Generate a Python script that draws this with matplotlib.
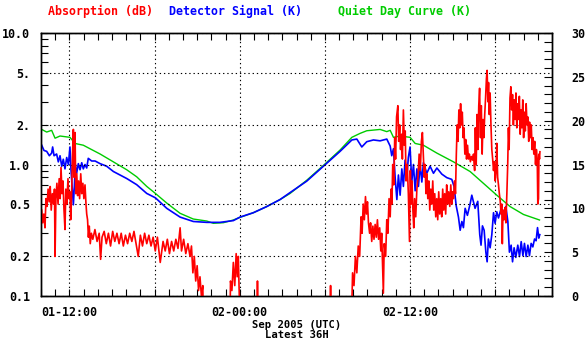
import numpy as np
import matplotlib
matplotlib.use("Agg")
import matplotlib.pyplot as plt
from matplotlib.ticker import FixedLocator, NullFormatter

# ---------------- data (hours since 01-10:00 UTC) ----------------
green_h = [0.05, 0.4, 0.75, 0.99, 1.34, 2.04, 2.4, 2.98, 3.45, 4.16, 5.1, 6.04, 6.74,
           7.45, 8.06, 8.86, 9.8, 10.73, 11.68, 12.14, 12.85, 13.55, 14.02, 14.96,
           15.9, 16.84, 17.55, 18.72, 19.9, 21.07, 21.9, 22.48, 22.95, 23.89, 24.36,
           24.6, 24.83, 25.3, 26.0, 26.36, 26.94, 27.89, 29.06, 30.23, 31.17, 32.11,
           33.05, 33.99, 35.12]
green_k = [19.0, 18.7, 18.9, 18.0, 18.25, 18.1, 17.4, 17.2, 16.8, 16.2, 15.3, 14.4, 13.6,
           12.5, 11.7, 10.6, 9.43, 8.78, 8.55, 8.29, 8.36, 8.67, 8.97, 9.5,
           10.2, 11.0, 11.7, 13.2, 14.9, 16.65, 18.1, 18.55, 18.85, 19.0, 18.75,
           18.9, 18.1, 18.25, 18.1, 17.4, 17.2, 16.3, 15.3, 14.2, 12.85, 11.5,
           10.2, 9.3, 8.67]

blue_h = [0.05, 0.21, 0.4, 0.59, 0.75, 0.82, 0.92, 1.1, 1.22, 1.34, 1.46, 1.57, 1.69,
          1.81, 1.93, 2.04, 2.11, 2.21, 2.28, 2.35, 2.42, 2.51, 2.63, 2.75, 2.87,
          2.98, 3.1, 3.22, 3.33, 3.57, 3.81, 4.16, 4.63, 5.1, 5.57, 6.04, 6.74,
          7.45, 8.06, 8.86, 9.8, 10.73, 11.68, 12.61, 13.55, 14.02, 14.96, 15.9,
          16.84, 17.55, 18.72, 19.9, 21.07, 21.9, 22.25, 22.6, 22.95, 23.42, 23.89,
          24.36, 24.6, 24.71, 24.83, 24.95, 25.07, 25.18, 25.3, 25.42, 25.53, 25.65,
          25.77, 25.88, 26.0, 26.12, 26.24, 26.36, 26.48, 26.59, 26.71, 26.83,
          26.94, 27.18, 27.41, 27.65, 27.89, 28.24, 28.59, 28.94, 29.1, 29.25,
          29.41, 29.53, 29.65, 29.76, 29.88, 30.04, 30.23, 30.35, 30.58, 30.77,
          30.91, 31.0, 31.1, 31.22, 31.34, 31.43, 31.52, 31.64, 31.76, 31.88,
          31.99, 32.11, 32.23, 32.42, 32.58, 32.75, 32.89, 33.0, 33.12, 33.22,
          33.33, 33.45, 33.59, 33.71, 33.83, 33.95, 34.06, 34.18, 34.3, 34.41,
          34.53, 34.65, 34.77, 34.88, 34.98, 35.07, 35.14]
blue_k = [17.2, 16.6, 16.5, 16.0, 16.3, 17.0, 16.0, 16.2, 15.3, 16.0, 14.8, 15.6, 14.5,
          15.8, 15.0, 17.0, 14.5, 12.0, 10.4, 12.5, 15.0, 14.0, 15.1, 14.4, 15.2,
          14.5, 15.0, 14.6, 15.7, 15.4, 15.4, 15.1, 14.8, 14.2, 13.8, 13.4, 12.7,
          11.7, 11.2, 10.0, 9.0, 8.5, 8.4, 8.4, 8.6, 9.0, 9.5, 10.2,
          11.0, 11.8, 13.1, 14.8, 16.5, 17.8, 17.9, 17.0, 17.6, 17.8, 17.7,
          17.9, 17.1, 16.0, 16.8, 13.5, 11.0, 13.8, 11.5, 14.5, 12.5, 15.5,
          13.5, 15.8, 17.0, 13.0, 15.0, 12.0, 14.5, 12.5, 15.0, 13.0,
          15.2, 14.0, 14.8, 14.0, 14.6, 13.9, 13.5, 13.3, 12.5, 10.3,
          9.0, 7.5, 8.5, 7.8, 10.0, 9.2, 10.5, 11.5, 10.0, 10.8,
          7.0, 5.8, 8.0, 7.5, 5.0, 3.9, 6.5, 5.5, 7.0, 9.5,
          8.3, 9.6, 8.9, 10.0, 9.5, 10.2, 8.5, 5.0, 5.8, 3.9,
          5.5, 4.4, 5.8, 4.5, 6.2, 4.6, 6.0, 4.5, 5.8, 4.6,
          6.0, 5.6, 6.5, 6.3, 7.8, 6.6, 7.0]

red_h = [0.05, 0.12, 0.2, 0.28, 0.35, 0.42, 0.5, 0.58, 0.65, 0.72, 0.8, 0.88, 0.95, 0.99,
         1.05, 1.12, 1.2, 1.28, 1.35, 1.41, 1.48, 1.55, 1.62, 1.69, 1.75, 1.82, 1.9,
         1.97, 2.04, 2.09, 2.15, 2.22, 2.28, 2.33, 2.4, 2.45, 2.52, 2.58, 2.65, 2.72,
         2.8, 2.87, 2.95, 3.02, 3.1, 3.17, 3.22, 3.28, 3.34, 3.4, 3.47, 3.55,
         3.65, 3.8, 3.95, 4.1, 4.2, 4.3, 4.45, 4.6, 4.75, 4.9, 5.05, 5.2, 5.35, 5.5,
         5.65, 5.8, 5.95, 6.1, 6.25, 6.4, 6.55, 6.7, 6.85, 7.0, 7.15, 7.3, 7.45, 7.6,
         7.75, 7.9, 8.05, 8.2, 8.4, 8.6, 8.75, 8.9, 9.05, 9.2, 9.35, 9.5, 9.65, 9.8,
         9.9, 10.05, 10.2, 10.35, 10.5, 10.6, 10.7, 10.8, 10.9, 11.0, 11.1, 11.2,
         11.3, 11.4, 11.45, 13.3, 13.35, 13.45, 13.55, 13.65, 13.75, 13.82, 13.9,
         13.97, 14.0, 15.24, 15.25, 15.27, 20.35, 20.4, 20.45,
         21.85, 21.95, 22.05, 22.15, 22.25, 22.35, 22.45, 22.55, 22.62, 22.7, 22.78,
         22.86, 22.93, 23.0, 23.07, 23.15, 23.22, 23.3, 23.38, 23.46, 23.54, 23.62,
         23.7, 23.78, 23.86, 23.94, 24.0, 24.08, 24.12, 24.18, 24.28, 24.36, 24.44,
         24.52, 24.6, 24.66, 24.72, 24.78, 24.85, 24.92, 24.98, 25.05, 25.14, 25.2,
         25.27, 25.33, 25.4, 25.46, 25.53, 25.6, 25.66, 25.72, 25.8, 25.88, 25.96,
         26.02, 26.08, 26.14, 26.2, 26.26, 26.32, 26.4, 26.48, 26.56, 26.64, 26.72,
         26.8, 26.87, 26.93, 27.0, 27.06, 27.12, 27.18, 27.25, 27.32, 27.39, 27.46,
         27.53, 27.6, 27.67, 27.74, 27.81, 27.88, 27.95, 28.02, 28.09, 28.16, 28.23,
         28.3, 28.37, 28.44, 28.51, 28.58, 28.65, 28.72, 28.8, 28.87, 28.94, 29.0,
         29.06, 29.13, 29.2, 29.26, 29.32, 29.38, 29.44, 29.5, 29.56, 29.62, 29.68,
         29.74, 29.8, 29.86, 29.92, 29.98, 30.05, 30.11, 30.18, 30.25, 30.32, 30.4,
         30.47, 30.55, 30.6, 30.66, 30.72, 30.78, 30.84, 30.9, 30.96, 31.02, 31.08,
         31.14, 31.2, 31.26, 31.32, 31.38, 31.43, 31.48, 31.53, 31.58, 31.64, 31.7,
         31.76, 31.82, 31.88, 31.94, 32.0, 32.06, 32.11, 32.17, 32.23, 32.29, 32.35,
         32.41, 32.46, 32.5, 32.55, 32.62, 32.68, 32.75, 32.82, 32.88, 32.93, 32.98,
         33.04, 33.1, 33.16, 33.22, 33.28, 33.34, 33.4, 33.46, 33.52, 33.58, 33.64,
         33.7, 33.76, 33.82, 33.88, 33.94, 34.0, 34.06, 34.12, 34.18, 34.24, 34.3,
         34.36, 34.42, 34.48, 34.54, 34.6, 34.66, 34.72, 34.78, 34.84, 34.9, 34.96,
         35.0, 35.05, 35.08, 35.12, 35.15]
red_db = [0.45, 0.36, 0.42, 0.33, 0.55, 0.48, 0.65, 0.52, 0.68, 0.45, 0.6, 0.5, 0.65, 0.2,
          0.55, 0.72, 0.5, 0.78, 0.55, 0.95, 0.6, 0.75, 0.45, 0.32, 0.65, 0.5, 0.78,
          0.55, 0.62, 0.38, 0.55, 1.2, 1.85, 0.8, 1.75, 0.6, 0.85, 0.58, 0.75, 0.55,
          0.85, 0.6, 0.72, 0.55, 0.7, 0.5, 0.42, 0.38, 0.28, 0.34, 0.25, 0.3,
          0.27, 0.32, 0.26, 0.3, 0.19, 0.28, 0.31, 0.25, 0.3, 0.24, 0.31, 0.26, 0.3, 0.25,
          0.3, 0.24, 0.29, 0.25, 0.3, 0.26, 0.31, 0.25, 0.2, 0.29, 0.24, 0.3, 0.25, 0.29,
          0.24, 0.28, 0.22, 0.28, 0.18, 0.26, 0.22, 0.27, 0.21, 0.26, 0.22, 0.27, 0.23, 0.33,
          0.22, 0.27, 0.21, 0.25, 0.2, 0.24, 0.15, 0.2, 0.13, 0.17, 0.11, 0.14,
          0.1, 0.12, 0.05, 0.05, 0.13, 0.11, 0.18, 0.12, 0.21, 0.14, 0.2,
          0.1, 0.05, 0.05, 0.13, 0.05, 0.05, 0.12, 0.05,
          0.05, 0.15, 0.12, 0.2, 0.15, 0.24, 0.2, 0.4, 0.3, 0.5, 0.38,
          0.57, 0.42, 0.52, 0.36, 0.3, 0.36, 0.26, 0.34, 0.27, 0.35, 0.28,
          0.38, 0.27, 0.33, 0.22, 0.3, 0.15, 0.105, 0.25, 0.2, 0.38, 0.3,
          0.55, 0.4, 0.65, 0.5, 1.0, 0.7, 1.6, 1.1, 2.3, 2.8, 1.5,
          2.0, 1.3, 1.7, 1.1, 2.6, 1.4, 1.8, 0.75, 1.0, 0.6, 0.26,
          0.9, 0.5, 0.75, 0.45, 0.33, 0.55, 0.4, 0.65, 0.8, 1.2, 0.9,
          1.5, 1.75, 1.2, 0.8, 1.0, 0.6, 0.85, 0.55, 0.75, 0.45, 0.65,
          0.5, 0.75, 0.45, 0.6, 0.4, 0.55, 0.38, 0.62, 0.42, 0.55, 0.4,
          0.65, 0.45, 0.6, 0.42, 0.7, 0.5, 0.62, 0.48, 0.7, 0.5, 0.62,
          0.55, 0.75, 0.6, 1.2, 2.0, 1.5, 2.6, 1.9, 2.9, 2.0, 2.5,
          1.6, 1.9, 1.2, 1.55, 1.1, 1.4, 1.1, 1.2, 1.05, 1.15, 1.08,
          1.2, 0.9, 1.9, 1.0, 2.4, 1.3, 2.8, 3.8, 1.6, 2.8, 1.2,
          2.2, 1.6, 2.4, 3.2, 4.5, 5.2, 3.0, 4.2, 2.4, 3.5, 2.0,
          1.3, 1.1, 0.9, 1.05, 0.75, 0.9, 1.45, 0.8, 0.7, 0.6, 0.53,
          0.42, 0.5, 0.25, 0.45, 0.38, 0.47, 0.36, 0.6, 1.0, 1.9, 1.3,
          3.2, 3.9, 2.6, 3.4, 2.0, 3.1, 2.2, 3.5, 1.9, 2.9, 2.2,
          3.3, 1.7, 2.6, 1.9, 3.1, 1.6, 2.5, 1.8, 2.9, 2.0, 2.3,
          1.5, 2.1, 1.6, 2.0, 1.3, 1.6, 1.2, 1.5, 1.0, 1.3, 1.1,
          0.5, 0.55, 1.2, 1.1, 1.25]

x_label_hours = [2, 14, 26]
x_tick_labels = ["01-12:00", "02-00:00", "02-12:00"]
left_ticks = [0.1, 0.2, 0.5, 1.0, 2.0, 5.0, 10.0]
left_labels = ["0.1", "0.2", "0.5", "1.0", "2.", "5.", "10.0"]
right_ticks = [0, 5, 10, 15, 20, 25, 30]

# ---------------- figure ----------------
FONT = dict(family="DejaVu Sans Mono", weight="bold", size=8.4)
SMALL = dict(family="DejaVu Sans Mono", weight="bold", size=7.6)
RED, BLUE, GREEN = "#ff0000", "#0000ff", "#00cc00"

fig = plt.figure(figsize=(5.85, 3.41), dpi=100)
fig.patch.set_facecolor("white")
ax = fig.add_axes([41 / 585, 45 / 341, 511 / 585, 263 / 341])   # K (right scale)
ax2 = ax.twinx()                                                  # dB (left scale, log)

ax.plot(green_h, green_k, color=GREEN, lw=1.0)
ax.plot(blue_h, blue_k, color=BLUE, lw=1.2)
ax2.plot(red_h, red_db, color=RED, lw=1.2)

ax.set_xlim(0, 36)
ax.set_ylim(0, 30)
ax2.set_yscale("log")
ax2.set_ylim(0.1, 10)

# K axis on the right
ax.yaxis.tick_right()
ax.yaxis.set_label_position("right")
ax.set_yticks(right_ticks)
ax.set_yticklabels([str(t) for t in right_ticks], fontdict=FONT)
ax.yaxis.set_minor_locator(FixedLocator(np.arange(0, 31, 1)))
for lab in ax.get_yticklabels():
    lab.set_horizontalalignment("left")

# dB axis on the left
ax2.yaxis.tick_left()
ax2.yaxis.set_major_locator(FixedLocator(left_ticks))
ax2.set_yticklabels(left_labels, fontdict=FONT)
minor_db = [m * d for d in (0.1, 1.0) for m in range(2, 10) if m not in (2, 5)]
ax2.yaxis.set_minor_locator(FixedLocator(minor_db))
ax2.yaxis.set_minor_formatter(NullFormatter())

# x axis
ax.xaxis.set_major_locator(FixedLocator([2, 8, 14, 20, 26, 32]))
ax.xaxis.set_minor_locator(FixedLocator(np.arange(0, 37, 1)))
ax.set_xticklabels(["" for _ in range(6)])
for h, lab in zip(x_label_hours, x_tick_labels):
    ax.text(h, -0.063, lab, transform=ax.get_xaxis_transform(), ha="center", va="center",
            fontdict=FONT)

ax.tick_params(axis="x", which="both", direction="in", length=5, width=0.8,
               top=True, bottom=True)
ax.tick_params(axis="y", which="both", direction="in", length=6, width=0.8, pad=14)
ax2.tick_params(axis="y", which="both", direction="in", length=5, width=0.8, pad=8)

# grid
grid_style = dict(color="black", linewidth=0.8, linestyle=(0, (1.2, 2.6)))
ax.xaxis.grid(True, which="major", **grid_style)
ax2.yaxis.grid(True, which="major", **grid_style)
ax.set_axisbelow(True)

for a in (ax, ax2):
    for s in a.spines.values():
        s.set_linewidth(1.0)
        s.set_color("black")

# title legend
fig.text(48 / 585, 1 - 11 / 341, "Absorption (dB)", color=RED, va="center", ha="left", fontdict=FONT)
fig.text(169 / 585, 1 - 11 / 341, "Detector Signal (K)", color=BLUE, va="center", ha="left", fontdict=FONT)
fig.text(338 / 585, 1 - 11 / 341, "Quiet Day Curve (K)", color=GREEN, va="center", ha="left", fontdict=FONT)

fig.text(297 / 585, 1 - 324.5 / 341, "Sep 2005 (UTC)", ha="center", va="center", fontdict=SMALL)
fig.text(297 / 585, 1 - 335.3 / 341, "Latest 36H", ha="center", va="center", fontdict=SMALL)

fig.savefig("out.png", dpi=100)
